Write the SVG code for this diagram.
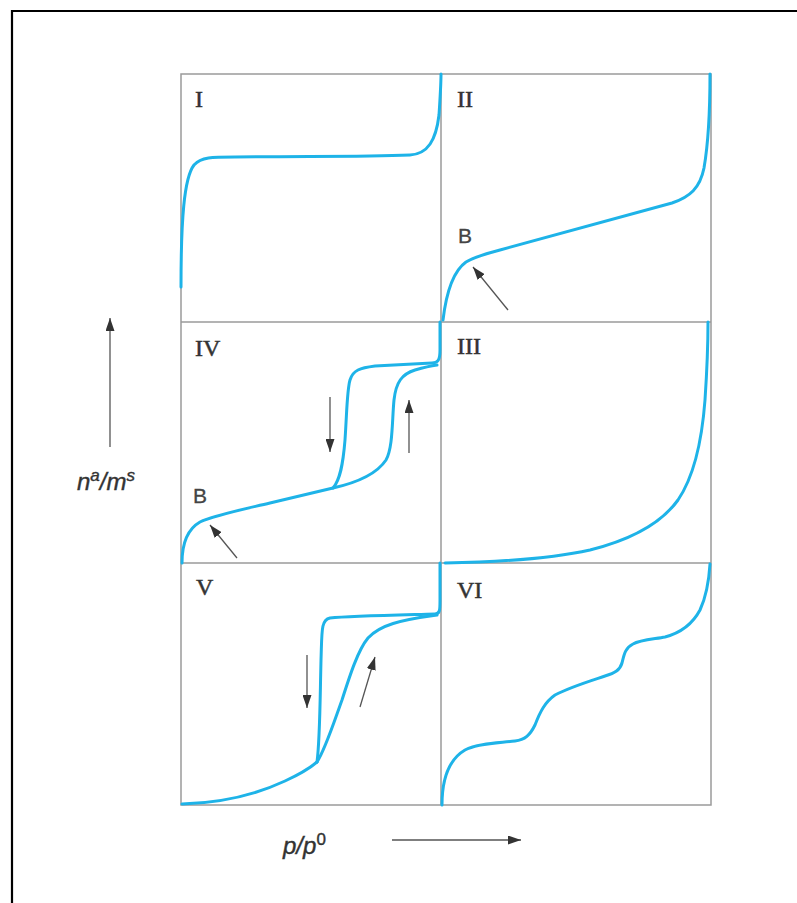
<svg xmlns="http://www.w3.org/2000/svg" width="797" height="903" viewBox="0 0 797 903">
<defs>
<marker id="ah" markerUnits="userSpaceOnUse" markerWidth="13" markerHeight="9" refX="13" refY="4.5" orient="auto">
<path d="M0,0 L13,4.5 L0,9 z" fill="#333"/>
</marker>
<style>
.grid{fill:none;stroke:#9a9a9a;stroke-width:1.5}
.curve{fill:none;stroke:#1eb3e8;stroke-width:3;stroke-linecap:round;stroke-linejoin:round}
.arr{fill:none;stroke:#555;stroke-width:1.3;marker-end:url(#ah)}
.num{font-family:"Liberation Serif","Times New Roman",serif;font-size:24px;fill:#333;stroke:#333;stroke-width:0.5}
.lbl{font-family:"Liberation Sans",Arial,sans-serif;font-size:21px;fill:#444;stroke:#444;stroke-width:0.3}
.ax{font-family:"Liberation Sans",Arial,sans-serif;font-size:24px;font-style:italic;fill:#333;stroke:#333;stroke-width:0.4}
</style>
</defs>
<rect width="797" height="903" fill="#fff"/>
<path d="M12,903 L12,11 L797,11" fill="none" stroke="#000" stroke-width="2.2"/>
<g id="grid">
<rect class="grid" x="181" y="74" width="530" height="731"/>
<line class="grid" x1="441" y1="74" x2="441" y2="805"/>
<line class="grid" x1="181" y1="322" x2="711" y2="322"/>
<line class="grid" x1="181" y1="563" x2="711" y2="563"/>
</g>
<g id="panel-I">
<path class="curve" d="M181,287 C181,220 184,178 194,165 C201,157 212,157 235,157 C300,156 360,157 410,155 C428,154 436,140 439,115 C440,100 441,85 441,74"/>
<text class="num" x="195" y="107">I</text>
</g>
<g id="panel-II">
<path class="curve" d="M443,320 C446,295 452,272 466,262 C474,257 485,254 500,250 L672,203 C690,197 700,188 704,168 C708,145 710,110 710,74"/>
<text class="num" x="457" y="107">II</text>
<text class="lbl" x="458" y="243">B</text>
</g>
<g id="panel-IV">
<path class="curve" d="M182,563 C182,545 186,530 200,522 C215,515 240,510 270,503 L333,488 C360,482 378,472 386,460 C393,448 392,420 394,400 C396,382 402,374 415,370 C422,368 430,366 437,365"/>
<path class="curve" d="M333,488 C340,480 343,465 345,440 C347,410 347,390 350,380 C353,370 360,368 375,366 L432,363 C438,363 440,360 440,350 L440,322"/>
<text class="num" x="195" y="356">IV</text>
<text class="lbl" x="193" y="503">B</text>
</g>
<g id="panel-III">
<path class="curve" d="M445,563 C500,562 550,559 590,550 C630,540 660,525 678,500 C695,475 702,440 705,400 C707,370 708,340 708,322"/>
<text class="num" x="457" y="354">III</text>
</g>
<g id="panel-V">
<path class="curve" d="M182,804 C220,803 255,795 285,781 C300,774 310,768 317,762"/>
<path class="curve" d="M317,762 C320,740 320,700 321,660 C322,630 321,620 330,618 C350,616 400,615 435,614 C440,614 440,610 440,600 L440,563"/>
<path class="curve" d="M317,762 C325,750 333,725 342,700 C350,675 358,650 368,638 C380,625 400,620 437,615"/>
<text class="num" x="196" y="595">V</text>
</g>
<g id="panel-VI">
<path class="curve" d="M442,805 C442,780 448,760 465,750 C478,743 500,743 515,741 C525,740 530,735 535,725 C540,712 545,702 555,695 C570,687 590,681 605,676 C615,673 620,670 622,663 C624,655 625,648 633,644 C640,640 655,639 665,637 C680,633 692,625 700,610 C707,595 709,580 710,564"/>
<text class="num" x="457" y="598">VI</text>
</g>
<g id="axes">
<text class="ax" x="77" y="490">n<tspan font-size="17" dy="-9">a</tspan><tspan dy="9">/m</tspan><tspan font-size="17" dy="-9">s</tspan></text>
<text class="ax" x="283" y="854">p/p<tspan font-size="17" dy="-9" font-style="normal">0</tspan></text>
</g>
<g id="connectors">
<line class="arr" x1="110" y1="447" x2="110" y2="318"/>
<line class="arr" x1="392" y1="840" x2="521" y2="840"/>
<line class="arr" x1="508" y1="310" x2="473" y2="267"/>
<line class="arr" x1="237" y1="558" x2="210" y2="525"/>
<line class="arr" x1="330" y1="397" x2="330" y2="452"/>
<line class="arr" x1="409" y1="453" x2="409" y2="400"/>
<line class="arr" x1="307" y1="655" x2="307" y2="708"/>
<line class="arr" x1="360" y1="707" x2="375" y2="657"/>
</g>
</svg>
